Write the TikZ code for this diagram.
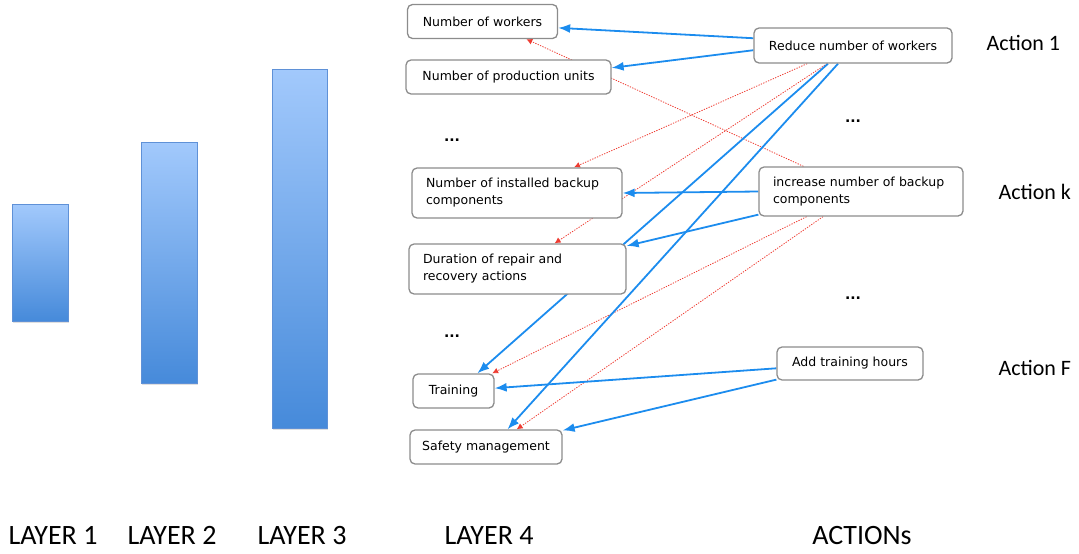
\documentclass[tikz,border=0pt]{standalone}
\usepackage{fontspec}
\newfontfamily\boxfont{DejaVu Sans}
\newfontfamily\boxbold{DejaVu Sans Bold}
\newfontfamily\labfont{Carlito}
\usetikzlibrary{arrows.meta,calc,shadows}
\pgfdeclarelayer{bg}
\pgfsetlayers{bg,main}
\definecolor{linkblue}{RGB}{28,140,238}
\definecolor{linkred}{RGB}{238,60,50}
\definecolor{boxgray}{RGB}{140,140,140}
\definecolor{bartop}{RGB}{162,201,252}
\definecolor{barbot}{RGB}{70,138,218}
\definecolor{baredge}{RGB}{95,145,215}
\begin{document}
\begin{tikzpicture}[x=1pt,y=-1pt,
  box/.style={draw=boxgray, line width=1.3pt, rounded corners=5pt, fill=white,
    font=\boxfont\fontsize{12.5}{17}\selectfont, inner sep=0pt},
  onebox/.style n args={2}{box, minimum width=#1, minimum height=#2},
  twobox/.style n args={2}{box, align=left, inner xsep=14pt, text width=#1, minimum height=#2},
  bluelink/.style={draw=linkblue, line width=1.8pt, -{Latex[length=12pt,width=9pt]}},
  redlink/.style={draw=linkred, line width=0.8pt, dash pattern=on 1.3pt off 1.3pt, -{Latex[length=6pt,width=6pt]}},
  bar/.style={top color=bartop, bottom color=barbot, draw=baredge, line width=0.6pt,
    drop shadow={shadow xshift=0.5pt, shadow yshift=-1.5pt, opacity=0.25}},
  dots/.style={font=\boxbold\fontsize{14}{16}\selectfont, anchor=base},
  actlab/.style={font=\labfont\fontsize{22}{26}\selectfont, anchor=base west},
  laylab/.style={font=\labfont\fontsize{28}{32}\selectfont, anchor=base}]
\useasboundingbox (0,0) rectangle (1079,554);

% bars
\path[bar] (12,204) rectangle (68,321);
\path[bar] (141,142) rectangle (197,383);
\path[bar] (272,69) rectangle (327,428);

% layer 4 boxes
\node[onebox={150pt}{34pt}] (w) at (482.5,21.5) {Number of workers};
\node[onebox={205pt}{34pt}] (u) at (508.5,77) {Number of production units};
\node[twobox={182pt}{50pt}] (b) at (517,193) {Number of installed backup\\components};
\node[twobox={189pt}{50pt}] (d) at (517.5,269) {Duration of repair and\\recovery actions};
\node[onebox={81pt}{34pt}] (t) at (453.5,391) {Training};
\node[onebox={152pt}{34pt}] (s) at (486,447) {Safety management};

% action boxes
\node[onebox={198pt}{35pt}] (r) at (853,45.5) {Reduce number of workers};
\node[twobox={176pt}{49pt}] (i) at (861,191.5) {increase number of backup\\components};
\node[onebox={146pt}{33pt}] (a) at (850,363.5) {Add training hours};

% dots
\node[dots] (d1) at (452,141) {...};
\node[dots] (d2) at (452,337) {...};
\node[dots] (d3) at (853,122) {...};
\node[dots] (d4) at (853,299) {...};

% action labels
\node[actlab] (l1) at (983,50) {Action 1};
\node[actlab] (lk) at (995,199) {Action k};
\node[actlab] (lf) at (995,375) {Action F};

% bottom labels
\node[laylab] (L1) at (53,544) {LAYER 1};
\node[laylab] (L2) at (172,544) {LAYER 2};
\node[laylab] (L3) at (302,544) {LAYER 3};
\node[laylab] (L4) at (489,544) {LAYER 4};
\node[laylab] (LA) at (862,544) {ACTIONs};

\begin{pgfonlayer}{bg}
% red dotted links
\draw[redlink] ($(i.north west)!0.22!(i.north east)$) -- ($(w.south west)!0.79!(w.south east)$);
\draw[redlink] ($(r.south west)!0.27!(r.south east)$) -- ($(b.north west)!0.77!(b.north east)$);
\draw[redlink] ($(r.south west)!0.37!(r.south east)$) -- ($(d.north west)!0.67!(d.north east)$);
\draw[redlink] ($(i.south west)!0.235!(i.south east)$) -- ($(t.north west)!0.97!(t.north east)$);
\draw[redlink] ($(i.south west)!0.315!(i.south east)$) -- ($(s.north west)!0.70!(s.north east)$);
% blue links
\draw[bluelink] ($(r.north west)!0.3!(r.south west)$) -- ($(w.north east)!0.68!(w.south east)$);
\draw[bluelink] ($(r.north west)!0.63!(r.south west)$) -- ($(u.north east)!0.24!(u.south east)$);
\draw[bluelink] ($(r.south west)!0.375!(r.south east)$) -- ($(t.north west)!0.79!(t.north east)$);
\draw[bluelink] ($(r.south west)!0.425!(r.south east)$) -- ($(s.north west)!0.64!(s.north east)$);
\draw[bluelink] (i.west) -- (b.east);
\draw[bluelink] ($(i.north west)!0.96!(i.south west)$) -- ($(d.north east)!0.05!(d.south east)$);
\draw[bluelink] ($(a.north west)!0.64!(a.south west)$) -- ($(t.north east)!0.42!(t.south east)$);
\draw[bluelink] ($(a.north west)!0.97!(a.south west)$) -- ($(s.north east)!0.03!(s.south east)$);
\end{pgfonlayer}
\end{tikzpicture}
\end{document}
